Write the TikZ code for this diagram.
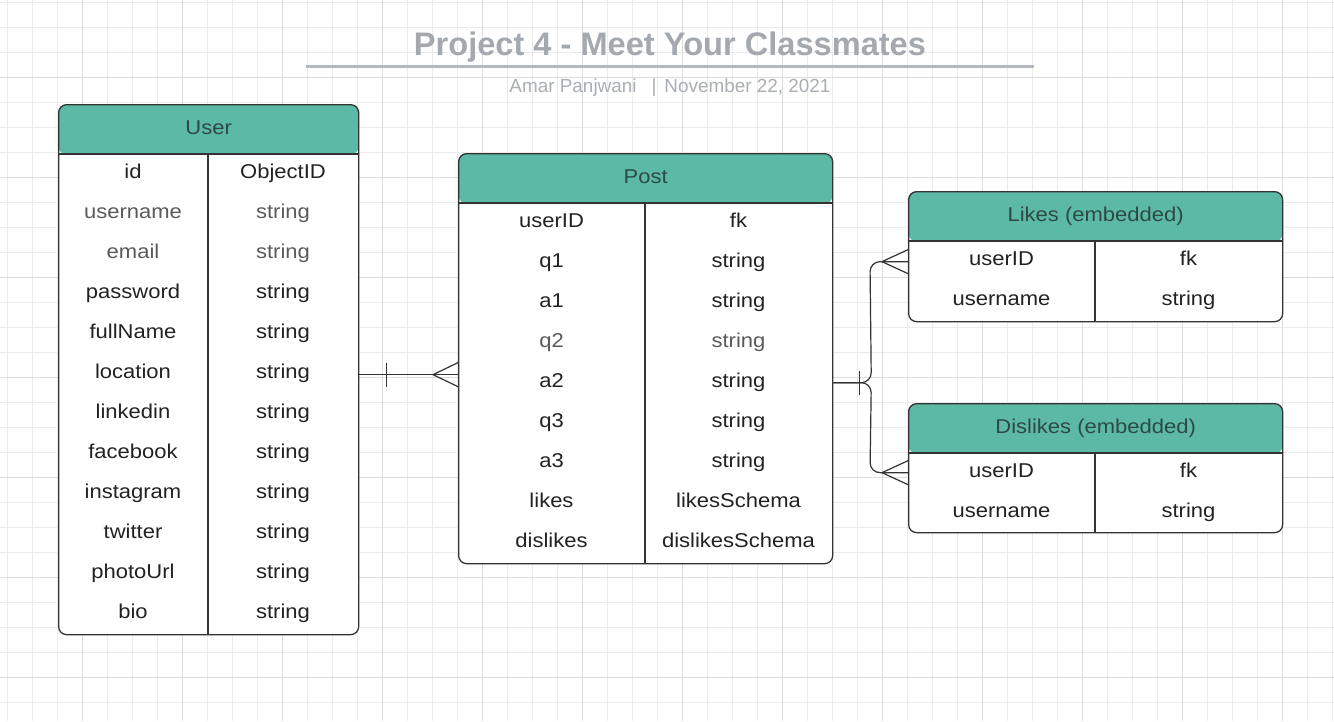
\documentclass[tikz,border=0pt]{standalone}
\usepackage{fontspec}
\setmainfont{Liberation Sans}
\newfontfamily\rowfont[FakeStretch=1.1]{Liberation Sans}
\newfontfamily\titlefont{Liberation Sans}
\newfontfamily\subfont{Liberation Sans}
\usetikzlibrary{calc}
\definecolor{headfill}{HTML}{5CB9A6}
\definecolor{headtxt}{HTML}{2D4A44}
\definecolor{txt}{HTML}{222222}
\definecolor{txtgrey}{HTML}{5A5A5A}
\definecolor{edge}{HTML}{333333}
\definecolor{gridminor}{HTML}{EBEBEB}
\definecolor{gridmajor}{HTML}{DCDCDC}
\definecolor{titlegrey}{HTML}{A4A9B0}
\definecolor{rulegrey}{HTML}{B4B9BF}
\definecolor{subgrey}{HTML}{A9AEB4}
\tikzset{
  tablebox/.style={draw=edge, line width=1.3pt, fill=white, rounded corners=8pt, inner sep=0pt,
    path picture={\fill[headfill] (path picture bounding box.north west) rectangle ([yshift=-50pt]path picture bounding box.north east);}},
  tline/.style={draw=edge, line width=1.3pt},
  headtext/.style={font=\rowfont\fontsize{20}{24}\selectfont, text=headtxt, inner sep=0pt},
  rowtext/.style={font=\rowfont\fontsize{20}{24}\selectfont, inner sep=0pt},
  conn/.style={draw=edge, line width=1.2pt},
}
\newcommand\ertable[8]{%
  \node[tablebox, minimum width=#4pt, minimum height=#6pt, anchor=north west] (#1) at (#2,#3) {};
  \draw[tline] ([yshift=-50pt]#1.north west) -- ([yshift=-50pt]#1.north east);
  \draw[tline] ([xshift=#5pt,yshift=-50pt]#1.north west) -- ([xshift=#5pt]#1.south west);
  \node[headtext, anchor=base] (#1-h) at ([yshift=-30pt]#1.north) {#7};
  \foreach \a/\b/\c [count=\i] in {#8} {
    \node[rowtext, text=\c, anchor=base] (#1-l\i) at ($(#1.north west)+({#5/2},{34+40*\i})$) {\a};
    \node[rowtext, text=\c, anchor=base] (#1-r\i) at ($(#1.north west)+({(#5+#4)/2},{34+40*\i})$) {\b};
  }
}
\begin{document}
\begin{tikzpicture}[x=1pt,y=-1pt]
\useasboundingbox (0,0) rectangle (1334,721);
\fill[white] (0,0) rectangle (1334,721);
% grid
\foreach \k in {0,...,53} \draw[gridminor, line width=0.8pt] ({7+25*\k},0) -- ({7+25*\k},721);
\foreach \k in {0,...,28} \draw[gridminor, line width=0.8pt] (0,{2+25*\k}) -- (1334,{2+25*\k});
\foreach \k in {0,...,12} \draw[gridmajor, line width=1pt] ({82+100*\k},0) -- ({82+100*\k},721);
\foreach \k in {0,...,6} \draw[gridmajor, line width=1pt] (0,{77+100*\k}) -- (1334,{77+100*\k});
% title
\node[anchor=base, inner sep=0pt, text=titlegrey, font=\titlefont\bfseries\fontsize{32.6}{38}\selectfont] (title) at (670,55) {Project 4 - Meet Your Classmates};
\draw[rulegrey, line width=3pt] (306,66) coordinate (rl) -- (1034,66) coordinate (rr);
\node[anchor=base, inner sep=0pt, text=subgrey, font=\subfont\fontsize{18.9}{22}\selectfont] (subtitle) at (670,92) {Amar Panjwani\hspace{15pt}|\hspace{8pt}November 22, 2021};
% tables
\ertable{user}{58}{104}{300}{150}{530}{User}{id/ObjectID/txt, username/string/txtgrey, email/string/txtgrey, password/string/txt, fullName/string/txt, location/string/txt, linkedin/string/txt, facebook/string/txt, instagram/string/txt, twitter/string/txt, photoUrl/string/txt, bio/string/txt}
\ertable{post}{458}{153}{374}{187}{410}{Post}{userID/fk/txt, q1/string/txt, a1/string/txt, q2/string/txtgrey, a2/string/txt, q3/string/txt, a3/string/txt, likes/likesSchema/txt, dislikes/dislikesSchema/txt}
\ertable{likes}{908}{191}{374}{187}{130}{Likes (embedded)}{userID/fk/txt, username/string/txt}
\ertable{dislikes}{908}{403}{374}{187}{129}{Dislikes (embedded)}{userID/fk/txt, username/string/txt}
% User -> Post (one to many)
\coordinate (up1) at ([yshift=-5pt]user.east);
\coordinate (up2) at (up1 -| post.west);
\draw[conn] (up1) -- (up2);
\draw[conn] ([xshift=27pt,yshift=-12pt]up1) -- ([xshift=27pt,yshift=12pt]up1);
\draw[conn] ([xshift=-25pt]up2) -- ([yshift=-12pt]up2);
\draw[conn] ([xshift=-25pt]up2) -- ([yshift=12pt]up2);
% Post -> Likes / Dislikes
\coordinate (pe) at ([yshift=-24pt]post.east);
\coordinate (le) at ([yshift=-5pt]likes.west);
\coordinate (de) at ([yshift=-4.5pt]dislikes.west);
\draw[conn, rounded corners=10pt] (pe) -- ([xshift=38pt]pe) -- ([xshift=-38pt]le) -- (le);
\draw[conn, rounded corners=10pt] (pe) -- ([xshift=38pt]pe) -- ([xshift=-38pt]de) -- (de);
\draw[conn] ([xshift=26pt,yshift=-12pt]pe) -- ([xshift=26pt,yshift=12pt]pe);
\draw[conn] ([xshift=-26pt]le) -- ([yshift=-12pt]le);
\draw[conn] ([xshift=-26pt]le) -- ([yshift=12pt]le);
\draw[conn] ([xshift=-26pt]de) -- ([yshift=-12pt]de);
\draw[conn] ([xshift=-26pt]de) -- ([yshift=12pt]de);
\end{tikzpicture}
\end{document}
